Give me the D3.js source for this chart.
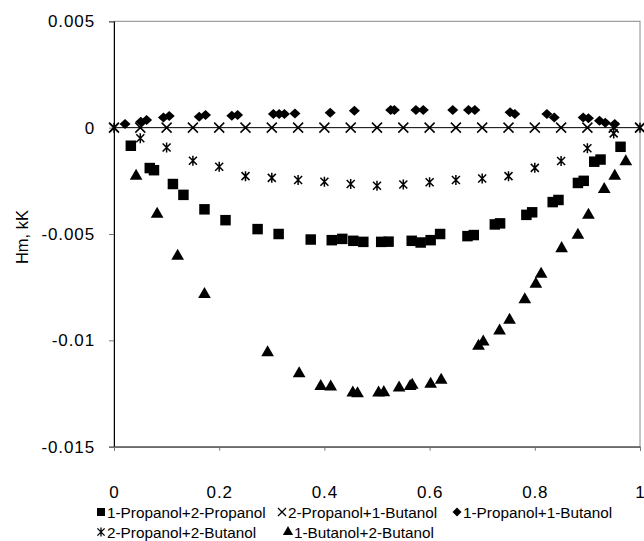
<!DOCTYPE html>
<html>
<head>
<meta charset="utf-8">
<script src="https://cdn.jsdelivr.net/npm/d3@7"></script>
<style>
body { margin: 0; background: #fff; }
text { font-family: "Liberation Sans", Arial, sans-serif; }
</style>
</head>
<body>
<script>
// series (mole fraction vs Hm, kK)
var xSq = [0.032, 0.068, 0.076, 0.112, 0.132, 0.172, 0.212, 0.273, 0.313, 0.374, 0.414, 0.434, 0.455, 0.474, 0.508, 0.522, 0.566, 0.583, 0.602, 0.620, 0.672, 0.684, 0.724, 0.734, 0.784, 0.795, 0.834, 0.845, 0.882, 0.893, 0.913, 0.925, 0.963];
var ySq = [-0.00085, -0.0019, -0.0020, -0.00265, -0.00316, -0.00384, -0.00435, -0.00477, -0.0050, -0.00526, -0.00529, -0.00523, -0.00532, -0.00537, -0.00537, -0.00536, -0.00532, -0.0054, -0.00529, -0.0050, -0.0051, -0.00505, -0.00455, -0.0045, -0.0041, -0.00398, -0.0035, -0.0034, -0.0026, -0.0025, -0.0016, -0.0015, -0.0009];

var xCross = [0, 0.05, 0.1, 0.15, 0.2, 0.25, 0.3, 0.35, 0.4, 0.45, 0.5, 0.55, 0.6, 0.65, 0.7, 0.75, 0.8, 0.85, 0.9, 0.95, 1];
var yCross = [0, 0, 0, 0, 0, 0, 0, 0, 0, 0, 0, 0, 0, 0, 0, 0, 0, 0, 0, 0, 0];

var xDia = [0.021, 0.051, 0.062, 0.094, 0.105, 0.162, 0.174, 0.224, 0.235, 0.303, 0.314, 0.324, 0.344, 0.411, 0.457, 0.526, 0.533, 0.574, 0.588, 0.644, 0.674, 0.686, 0.753, 0.762, 0.823, 0.837, 0.892, 0.902, 0.923, 0.934, 0.952];
var yDia = [0.00017, 0.00028, 0.00036, 0.00048, 0.00055, 0.00051, 0.00059, 0.00056, 0.00059, 0.00064, 0.00064, 0.00064, 0.00067, 0.0007, 0.0008, 0.00083, 0.00083, 0.00083, 0.00083, 0.00083, 0.00083, 0.00083, 0.00072, 0.00064, 0.00064, 0.00048, 0.00048, 0.00044, 0.00032, 0.00023, 0.00017];

var xStar = [0, 0.05, 0.1, 0.15, 0.2, 0.25, 0.3, 0.35, 0.4, 0.45, 0.5, 0.55, 0.6, 0.65, 0.7, 0.75, 0.8, 0.85, 0.9, 0.95, 1];
var yStar = [0, -0.0005, -0.00093, -0.00156, -0.00184, -0.00228, -0.00236, -0.00246, -0.00254, -0.00265, -0.00273, -0.00267, -0.00257, -0.00246, -0.00239, -0.00228, -0.00189, -0.00157, -0.00097, -0.00027, 0];

var xTri = [0.042, 0.082, 0.121, 0.172, 0.292, 0.352, 0.393, 0.412, 0.454, 0.463, 0.503, 0.513, 0.542, 0.563, 0.567, 0.602, 0.622, 0.693, 0.702, 0.733, 0.752, 0.781, 0.802, 0.812, 0.851, 0.882, 0.902, 0.932, 0.952, 0.973];
var yTri = [-0.00228, -0.00406, -0.00604, -0.00784, -0.01057, -0.01156, -0.01216, -0.01219, -0.01247, -0.0125, -0.01247, -0.01245, -0.01223, -0.01216, -0.0121, -0.01206, -0.01187, -0.01027, -0.01007, -0.00955, -0.00905, -0.00808, -0.00736, -0.00689, -0.00568, -0.00505, -0.00411, -0.0029, -0.00228, -0.0016];

var yTicks = [0.005, 0, -0.005, -0.01, -0.015];
var xTicks = [0, 0.2, 0.4, 0.6, 0.8, 1];

var names = ["1-Propanol+2-Propanol", "2-Propanol+1-Butanol", "1-Propanol+1-Butanol", "2-Propanol+2-Butanol", "1-Butanol+2-Butanol"];

var W = 644, H = 541;
var mLeft = 114, mRight = 640, mTop = 21.3, mBottom = 446.7;

var svg = d3.select("body").append("svg").attr("width", W).attr("height", H);

var x = d3.scaleLinear().domain([0, 1]).range([mLeft, mRight]);
var y = d3.scaleLinear().domain([-0.015, 0.005]).range([mBottom, mTop]);

// plot box
svg.append("rect").attr("x", mLeft).attr("y", mTop).attr("width", mRight - mLeft).attr("height", mBottom - mTop)
  .attr("fill", "none").attr("stroke", "#888").attr("stroke-width", 1);

// y axis
var yAxis = svg.append("g").attr("transform", "translate(" + mLeft + ",0)")
  .call(d3.axisLeft(y).tickValues(yTicks).tickSize(5).tickPadding(14).tickFormat(function(d){ return d === 0 ? "0" : String(+d.toFixed(3)); }));
yAxis.select(".domain").attr("stroke", "#000");
yAxis.selectAll(".tick line").attr("stroke", "#777");
yAxis.selectAll("text").attr("font-size", 17).attr("letter-spacing", 0.9).attr("fill", "#000").attr("font-family", "Liberation Sans, Arial, sans-serif");

// x ticks at the bottom
var xAxis = svg.append("g").attr("transform", "translate(0," + mBottom + ")")
  .call(d3.axisBottom(x).tickValues(xTicks).tickSize(4).tickPadding(35).tickFormat(function(d){ return String(d); }));
xAxis.select(".domain").attr("stroke", "#333");
xAxis.selectAll(".tick line").attr("stroke", "#777");
xAxis.selectAll("text").attr("font-size", 17).attr("letter-spacing", 0.9).attr("fill", "#000").attr("font-family", "Liberation Sans, Arial, sans-serif");

// zero line
svg.append("line").attr("x1", x(0)).attr("x2", x(1)).attr("y1", y(0)).attr("y2", y(0))
  .attr("stroke", "#000").attr("stroke-width", 1);

// y label
svg.append("text").attr("transform", "translate(28," + 237 + ") rotate(-90)")
  .attr("text-anchor", "middle").attr("font-size", 16.5).text("Hm, kK");

function crossPath(s) {
  return "M" + (-s) + "," + (-s) + "L" + s + "," + s + "M" + (-s) + "," + s + "L" + s + "," + (-s);
}
function starPath(s) {
  return crossPath(s * 0.8) + "M0," + (-s) + "L0," + s;
}
function diamondPath(w, h) {
  return "M0," + (-h) + "L" + w + ",0L0," + h + "L" + (-w) + ",0Z";
}

var sq = d3.symbol().type(d3.symbolSquare).size(110)();
var dia = diamondPath(5.5, 5);
var tri = d3.symbol().type(d3.symbolTriangle).size(70)();

function pts(xs, ys) { return xs.map(function(v, i){ return [v, ys[i]]; }); }

function drawFilled(data, path) {
  svg.append("g").selectAll("path").data(data).enter().append("path")
    .attr("d", path).attr("fill", "#000")
    .attr("transform", function(d){ return "translate(" + x(d[0]) + "," + y(d[1]) + ")"; });
}
function drawStroke(data, path) {
  svg.append("g").selectAll("path").data(data).enter().append("path")
    .attr("d", path).attr("fill", "none").attr("stroke", "#000").attr("stroke-width", 1.5)
    .attr("transform", function(d){ return "translate(" + x(d[0]) + "," + y(d[1]) + ")"; });
}

drawStroke(pts(xCross, yCross), crossPath(5));
drawFilled(pts(xDia, yDia), dia);
drawStroke(pts(xStar, yStar), starPath(5));
drawFilled(pts(xSq, ySq), sq);
drawFilled(pts(xTri, yTri), tri);

// legend
var legendItems = [
  {name: names[0], kind: "sq", lx: 101, ly: 512},
  {name: names[1], kind: "cross", lx: 282, ly: 512},
  {name: names[2], kind: "dia", lx: 457, ly: 512},
  {name: names[3], kind: "star", lx: 101, ly: 532},
  {name: names[4], kind: "tri", lx: 288, ly: 532}
];
var lg = svg.append("g");
legendItems.forEach(function(it) {
  var g = lg.append("g").attr("transform", "translate(" + it.lx + "," + it.ly + ")");
  if (it.kind === "sq") g.append("path").attr("d", d3.symbol().type(d3.symbolSquare).size(64)()).attr("fill", "#000");
  if (it.kind === "dia") g.append("path").attr("d", diamondPath(4.5, 4.5)).attr("fill", "#000");
  if (it.kind === "tri") g.append("path").attr("d", d3.symbol().type(d3.symbolTriangle).size(45)()).attr("fill", "#000");
  if (it.kind === "cross") g.append("path").attr("d", crossPath(4)).attr("stroke", "#000").attr("stroke-width", 1.3).attr("fill", "none");
  if (it.kind === "star") g.append("path").attr("d", starPath(4.5)).attr("stroke", "#000").attr("stroke-width", 1.3).attr("fill", "none");
  g.append("text").attr("x", 6).attr("y", 5.5).attr("font-size", 15.3).text(it.name);
});
</script>
</body>
</html>
